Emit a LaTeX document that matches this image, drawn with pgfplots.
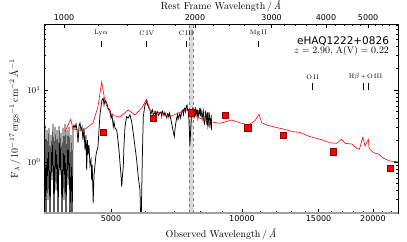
\documentclass[border=0pt]{standalone}
\usepackage{fontspec}
\newfontfamily\dejavu{DejaVu Sans}
\usepackage{pgfplots}
\pgfplotsset{compat=1.18}
\begin{document}
\begin{tikzpicture}
\begin{axis}[name=main, at={(0,0)}, anchor=south west,
  scale only axis, width=354bp, height=189bp,
  xmode=log, ymode=log,
  xmin=3508, xmax=22840, ymin=0.196, ymax=82.5,
  xtick={5000,10000,15000,20000}, xticklabels={5000,10000,15000,20000},
  minor xtick={4000,6000,7000,8000,9000,11000,12000,13000,14000,16000,17000,18000,19000,21000,22000},
  xtick pos=left, ytick pos=both,
  tick align=inside,
  major tick length=4bp, minor tick length=2bp,
  tick style={black, line width=0.5bp},
  xticklabel style={font=\dejavu\fontsize{8bp}{9bp}\selectfont, yshift=1bp},
  yticklabel style={font=\fontsize{8.5bp}{9bp}\selectfont},
  xlabel={Observed Wavelength\,/\,\textit{\AA}},
  ylabel={F$_\lambda$\,/\,$10^{-17}$\,ergs$^{-1}$\,cm$^{-2}$\,\AA$^{-1}$},
  label style={font=\fontsize{10bp}{12bp}\selectfont},
  axis line style={line width=0.6bp},
]
% telluric band
\fill[gray, opacity=0.3] (axis cs:7560,0.196) rectangle (axis cs:7720,82.5);
\draw[gray, dashed, line width=0.6bp] (axis cs:7560,0.196) -- (axis cs:7560,82.5);
\draw[gray, dashed, line width=0.6bp] (axis cs:7720,0.196) -- (axis cs:7720,82.5);

% observed spectrum
\addplot[black, line width=0.75bp] coordinates {
(3508,2.02) (3526,3.27) (3544,0.1) (3563,2.78) (3582,0.297) (3601,2.97) (3621,0.1)
(3640,2.37) (3659,0.562) (3679,3.37) (3698,0.1) (3718,3.06) (3738,0.408) (3758,2.78)
(3778,0.1) (3798,3.16) (3818,0.66) (3838,2.53) (3859,0.1) (3879,2.97) (3900,0.297)
(3921,3.37) (3941,0.1) (3962,2.78) (3983,0.479) (4004,3.06) (4026,0.1) (4047,2.37)
(4069,0.1) (4091,2.97)
(4111,3.27) (4133,2.97) (4155,3.37) (4177,2.78) (4200,1.84) (4222,3.16) (4244,3.48)
(4266,2.78) (4289,3.06) (4311,2.02) (4334,2.97) (4357,1.47) (4380,2.37) (4396,0.774)
(4415,2.02) (4426,1.25) (4450,1.72) (4474,0.908) (4498,1.066) (4514,0.562) (4527,0.908)
(4550,0.27) (4570,0.66) (4594,0.908) (4618,1.25) (4643,1.47) (4667,1.62) (4692,2.78)
(4717,4.50) (4742,5.81) (4767,7.26) (4800,7.67) (4818,6.19) (4843,7.26) (4890,6.60)
(4921,5.62) (4974,5.28) (5000,4.08) (5027,4.50) (5061,3.09) (5080,3.59) (5107,2.97)
(5152,2.78) (5174,2.30) (5196,1.84) (5216,1.47) (5244,0.969) (5272,0.66) (5292,0.454)
(5314,0.66) (5336,0.852) (5356,1.72) (5385,3.09) (5413,3.83) (5433,4.26) (5471,4.08)
(5529,4.50) (5579,3.63) (5626,2.50) (5677,1.63) (5728,1.066) (5776,0.625) (5829,0.408)
(5860,0.1) (5900,1.066) (5932,4.26) (5985,6.19) (6039,6.88) (6090,5.86) (6145,5.28)
(6170,4.6) (6201,4.99) (6230,5.3) (6250,4.5) (6277,4.64) (6320,5.0) (6340,4.3) (6367,4.84)
(6400,5.0) (6420,4.4) (6445,4.50) (6480,4.9) (6514,4.95) (6540,4.3) (6560,5.1) (6594,4.75)
(6620,4.4) (6650,4.9) (6689,4.35) (6720,4.1) (6740,4.7) (6760,4.64) (6790,4.2) (6810,4.8)
(6832,4.50) (6893,3.45) (6941,2.78) (6989,2.25) (7034,3.27) (7078,4.05) (7110,4.6)
(7130,3.9) (7165,4.35) (7200,4.7) (7220,4.1) (7268,4.75) (7290,5.2) (7318,5.28) (7340,4.6)
(7370,5.6) (7396,5.57) (7420,5.0) (7455,5.99) (7480,6.2) (7500,5.2) (7526,5.28) (7554,3.83)
(7594,1.72) (7634,3.27) (7662,4.75) (7715,5.62) (7740,5.0) (7760,4.0) (7777,4.50) (7800,5.2)
(7820,4.3) (7840,5.4) (7868,4.99) (7890,4.3) (7900,5.3) (7922,4.08) (7940,4.4) (7964,5.28)
(7980,4.6) (8000,5.6) (8020,4.3) (8050,5.3) (8079,4.50) (8100,4.0) (8134,4.95) (8150,5.2)
(8178,3.59) (8200,3.4) (8221,3.83) (8240,5.0) (8265,4.79) (8280,4.0) (8309,3.27) (8330,4.9)
(8350,3.1) (8365,3.27) (8397,4.95) (8420,4.4) (8441,2.97) (8464,4.08) (8480,3.3) (8500,4.5)
(8517,2.78)
};

% model
\addplot[red, line width=0.6bp] coordinates {
(3920,2.64) (4040,3.92) (4089,2.87) (4311,2.72) (4546,3.48) (4667,5.86) (4760,13.0)
(4843,6.88) (4974,4.79) (5107,4.35) (5244,4.22) (5479,5.28) (5677,4.50) (5882,5.62)
(6039,7.43) (6145,5.28) (6480,4.79) (6832,4.26) (7138,4.79) (7463,5.28) (7662,4.79)
(8007,4.05) (8441,3.63) (8900,3.45) (9471,3.83) (9898,3.51) (10343,3.26) (10714,3.75)
(10943,4.60) (11101,3.51) (11399,3.26) (11804,3.09) (12444,2.87) (13121,2.64) (13595,2.57)
(14335,2.25) (15116,2.07) (15940,1.85) (16515,1.82) (16958,2.07) (17257,1.82) (17880,1.78)
(18359,1.55) (18613,1.50) (18958,2.20) (19184,1.67) (19527,2.07) (19595,1.55) (20047,1.35)
(20584,1.29) (21134,1.13) (21897,1.03) (22843,1.01)
};

% photometry
\addplot[only marks, mark=square*, mark size=3.1bp, mark options={fill=red, draw=red!55!black, line width=0.4bp}] coordinates {
(4800,2.585) (6255,4.045) (7636,4.84) (9142,4.50) (10311,2.99) (12450,2.37) (16220,1.39) (21890,0.818)
};

% line identifications
\tikzset{lab/.style={font=\fontsize{6.5bp}{7bp}\selectfont, inner sep=0}}
\node[lab] at (axis cs:4742,61.9) {Ly$\alpha$};
\draw[line width=0.5bp] (axis cs:4742,47.9) -- (axis cs:4742,39.6);
\node[lab] at (axis cs:6041,61.9) {C\,IV};
\draw[line width=0.5bp] (axis cs:6041,47.9) -- (axis cs:6041,39.6);
\node[lab] at (axis cs:7445,61.9) {C\,III};
\draw[line width=0.5bp] (axis cs:7445,47.9) -- (axis cs:7445,39.6);
\node[lab] at (axis cs:10912,61.9) {Mg\,II};
\draw[line width=0.5bp] (axis cs:10912,47.9) -- (axis cs:10912,39.6);
\node[lab] at (axis cs:14535,15.2) {O\,II};
\draw[line width=0.5bp] (axis cs:14535,12.5) -- (axis cs:14535,10.0);
\node[lab] at (axis cs:19240,15.2) {H$\beta$\,+\,O\,III};
\draw[line width=0.5bp] (axis cs:18958,12.5) -- (axis cs:18958,10.0);
\draw[line width=0.5bp] (axis cs:19527,12.5) -- (axis cs:19527,10.0);

\node[anchor=north east, inner sep=0, font=\dejavu\fontsize{10.5bp}{12bp}\selectfont] at (rel axis cs:0.975,0.935) {eHAQ1222+0826};
\node[anchor=base east, inner sep=0, font=\fontsize{9.5bp}{11bp}\selectfont] at (rel axis cs:0.975,0.843) {$z=2.90$, $\mathrm{A(V)}=0.22$};
\end{axis}

\begin{axis}[at={(0,0)}, anchor=south west,
  scale only axis, width=354bp, height=189bp,
  xmode=log, xmin=899.5, xmax=5856.4, ymin=0, ymax=1,
  axis x line*=top, axis y line=none,
  x axis line style={-, line width=0.6bp},
  xtick={1000,2000,3000,4000,5000}, xticklabels={1000,2000,3000,4000,5000},
  minor xtick={1200,1400,1600,1800,2200,2400,2600,2800,3200,3400,3600,3800,4200,4400,4600,4800,5200,5400,5600,5800},
  tick align=inside,
  major tick length=4bp, minor tick length=2bp,
  tick style={black, line width=0.5bp},
  xticklabel style={font=\dejavu\fontsize{8bp}{9bp}\selectfont},
  xlabel={Rest Frame Wavelength\,/\,\textit{\AA}},
  xlabel style={yshift=-4.5bp},
  label style={font=\fontsize{10bp}{12bp}\selectfont},
]
\end{axis}
\draw[gray!75, line width=1.6bp] (main.south west) -- (main.south east);
\pgfresetboundingbox
\path[use as bounding box] ([shift={(-44bp,-29bp)}]main.south west) rectangle ([shift={(9bp,24bp)}]main.north east);
\end{tikzpicture}
\end{document}
